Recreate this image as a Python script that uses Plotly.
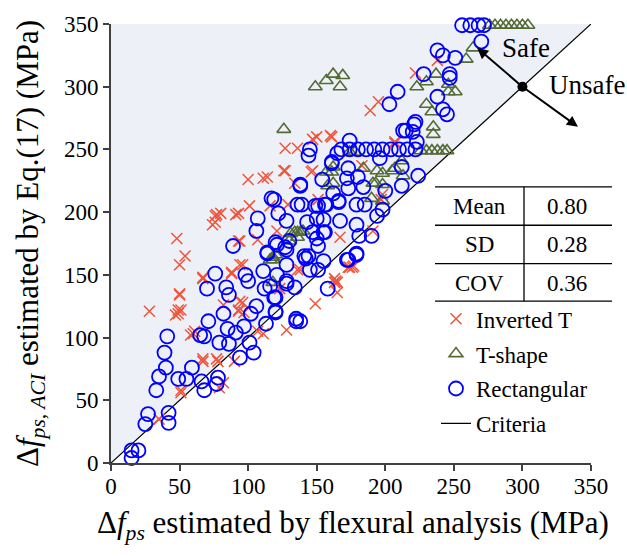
import plotly.graph_objects as go

# ---------------- data ----------------
inv_x = [28, 49, 51, 60, 58, 67, 78, 90, 51, 79, 35, 82, 93, 111, 82,
         48, 54, 50, 50, 47, 61, 67, 67, 77, 51, 93, 96, 88, 96, 107, 128, 149, 165, 165, 174, 138,
         127, 114, 100, 101, 116, 129, 77, 80, 91, 93, 74, 76, 94, 107, 94, 88, 67, 50, 49, 94, 93,
         121, 123, 136, 163, 147,
         150, 160, 127, 136, 126, 146, 134, 151, 167, 176, 191, 197, 163, 207, 189, 195, 222, 238,
         147, 161, 207, 198, 183, 173, 177, 164, 111, 76, 97]
inv_y = [121, 119, 122, 103, 102, 81, 81, 81, 58, 60, 35, 126, 121, 103, 64,
         179, 165, 158, 135, 118, 105, 147, 83, 83, 56, 177, 158, 151, 128, 105, 106, 127, 144, 136, 156, 154,
         233, 228, 226, 205, 205, 206, 198, 199, 198, 199, 190, 192, 177, 178, 158, 152, 148, 134, 122, 129, 122,
         185, 139, 154, 144, 233,
         260, 261, 251, 251, 233, 232, 223, 210, 180, 156, 185, 210, 147, 256, 281, 288, 311, 321,
         258, 260, 255, 214, 237, 156, 157, 145, 227, 197, 120]

tsh_x = [276, 280, 284, 288, 292, 296, 300, 304,
         149, 157, 162, 169, 167, 126,
         264, 259, 237, 230, 223, 246, 251, 246, 230, 234, 235, 235,
         226, 230, 234, 238, 242, 245,
         212, 213, 207, 194, 198, 205, 184, 198, 193, 190, 162, 162, 198, 157, 158, 191,
         140, 136, 131, 120, 118, 134, 138, 118, 116, 118, 161, 130, 136, 174, 178]
tsh_y = [349, 349, 349, 349, 349, 349, 349, 349,
         300, 305, 310, 309, 300, 266,
         331, 322, 310, 304, 300, 302, 296, 296, 286, 280, 268, 262,
         249, 249, 249, 249, 249, 249,
         241, 229, 235, 233, 231, 233, 235, 222, 223, 211, 236, 223, 209, 232, 221, 223,
         185, 184, 183, 166, 162, 184, 184, 164, 162, 144, 232, 177, 180, 248, 248]

rec_x = [15, 20, 15, 27, 25, 42, 42, 33, 35, 40, 39, 41,
         49, 55, 59, 66, 68, 78, 77,
         71, 65, 68, 82, 85, 79, 86, 91, 97, 101, 104, 94, 102, 106, 113, 120,
         119, 112, 116, 128, 134, 121, 111, 98, 100, 114, 121, 127, 128, 141, 145, 151, 155, 158, 135, 172, 179, 151,
         76, 70, 84, 86, 89, 107, 106, 119, 122, 128, 138, 136, 149, 156, 143, 150, 155, 147, 155, 150, 142,
         161, 154, 162, 166, 114, 120, 128, 130, 144, 128, 120, 120, 135, 138,
         144, 145, 174, 165, 161, 173, 172, 180, 173, 196, 212, 224, 212, 200, 138, 117, 139, 151, 157, 166,
         179, 185, 198, 194, 190, 181, 179, 167, 156, 173, 179,
         168, 174, 180, 186, 192, 198, 204, 210, 216, 222,
         213, 221, 256, 262, 268, 272, 270, 238, 242, 251, 228, 247, 247, 209, 203, 238, 242, 245, 222, 215,
         220, 223, 184]
rec_y = [10, 10, 4, 39, 31, 40, 32, 58, 69, 76, 88, 101,
         67, 67, 76, 65, 58, 68, 63,
         113, 102, 101, 119, 107, 96, 95, 104, 109, 96, 88, 84, 119, 125, 111, 120,
         132, 139, 141, 143, 140, 150, 153, 150, 145, 167, 174, 172, 158, 165, 154, 154, 161, 139, 113, 162, 166, 173,
         151, 139, 140, 134, 173, 195, 185, 210, 199, 193, 221, 206, 205, 206, 192, 195, 194, 184, 184, 179, 163,
         239, 226, 215, 209, 168, 176, 170, 177, 165, 145, 132, 121, 115, 113,
         245, 250, 257, 247, 240, 235, 227, 228, 219, 243, 236, 229, 221, 217, 222, 211, 206, 205, 206, 208,
         206, 206, 202, 197, 181, 181, 190, 193, 184, 162, 167,
         250, 250, 250, 250, 250, 250, 250, 250, 250, 250,
         265, 270, 349, 349, 349, 349, 336, 329, 325, 323, 310, 310, 307, 296, 286, 292, 282, 278, 272, 265,
         264, 256, 220]

crit_x = [0, 350]
crit_y = [0, 350]

table_rows = ["Mean", "SD", "COV"]
table_vals = ["0.80", "0.28", "0.36"]

axis_ticks = [0, 50, 100, 150, 200, 250, 300, 350]

# ---------------- layout helpers (pixels -> paper) ----------------
L, R, T, B = 111, 591, 18, 463
W, H = 627, 556


def px(x):
    return (x - L) / (R - L)


def py(y):
    return (B - y) / (B - T)


FONT = "Liberation Serif"

fig = go.Figure()

fig.add_trace(go.Scatter(x=crit_x, y=crit_y, mode="lines", name="Criteria",
                         line=dict(color="black", width=1.2), legendrank=4,
                         legendgroup="d"))
fig.add_trace(go.Scatter(x=inv_x, y=inv_y, mode="markers", name="Inverted T",
                         marker=dict(symbol="x-thin-open", size=11,
                                     line=dict(color="#ff0000", width=1.5)),
                         legendrank=1, legendgroup="a", cliponaxis=False))
fig.add_trace(go.Scatter(x=tsh_x, y=tsh_y, mode="markers", name="T-shape",
                         marker=dict(symbol="triangle-up-open", size=12, color="#556b35",
                                     line=dict(width=1.6)),
                         legendrank=2, legendgroup="b", cliponaxis=False))
fig.add_trace(go.Scatter(x=rec_x, y=rec_y, mode="markers", name="Rectangular",
                         marker=dict(symbol="circle-open", size=14, color="#0000ff",
                                     line=dict(width=1.8)),
                         legendrank=3, legendgroup="c", cliponaxis=False))
fig.add_trace(go.Scatter(x=[300], y=[300], mode="markers", showlegend=False,
                         marker=dict(size=10, color="black"), cliponaxis=False))

shapes = [dict(type="path", path="M 0,0 L 350,350 L 0,350 Z", xref="x", yref="y",
               fillcolor="#edf1f7", line=dict(width=0), layer="below")]
for yy in [183, 222, 261, 299]:
    shapes.append(dict(type="line", xref="paper", yref="paper", x0=px(435), x1=px(612),
                       y0=py(yy), y1=py(yy), line=dict(color="black", width=1.3)))
shapes.append(dict(type="line", xref="paper", yref="paper", x0=px(524), x1=px(524),
                   y0=py(183), y1=py(299), line=dict(color="black", width=1.3)))

annotations = []
for i, (lab, val) in enumerate(zip(table_rows, table_vals)):
    yc = 203 + i * 39
    annotations.append(dict(text=lab, x=px(479), y=py(yc), xref="paper", yref="paper",
                            showarrow=False, xanchor="center", yanchor="middle",
                            font=dict(family=FONT, size=23, color="black")))
    annotations.append(dict(text=val, x=px(567), y=py(yc), xref="paper", yref="paper",
                            showarrow=False, xanchor="center", yanchor="middle",
                            font=dict(family=FONT, size=23, color="black")))

for tx, ty in [(267, 331), (340.5, 268)]:
    annotations.append(dict(x=tx, y=ty, ax=300, ay=300, xref="x", yref="y", axref="x", ayref="y",
                            text="", showarrow=True, arrowhead=2, arrowsize=1.1,
                            arrowwidth=2, arrowcolor="black"))
annotations.append(dict(text="Safe", x=px(526), y=py(42), xref="paper", yref="paper",
                        showarrow=False, xanchor="center", yanchor="middle",
                        font=dict(family=FONT, size=27, color="black")))
annotations.append(dict(text="Unsafe", x=px(547), y=py(80), xref="paper", yref="paper",
                        showarrow=False, xanchor="left", yanchor="middle",
                        font=dict(family=FONT, size=27, color="black")))
annotations.append(dict(text="Δ<i>f</i><sub><i>ps</i></sub> estimated by flexural analysis (MPa)",
                        x=px(353), y=py(526), xref="paper", yref="paper", showarrow=False,
                        xanchor="center", yanchor="middle",
                        font=dict(family=FONT, size=31, color="black")))
annotations.append(dict(text="Δ<i>f</i><sub><i>ps, ACI</i></sub> estimated by Eq.(17) (MPa)",
                        x=px(30), y=py(241), xref="paper", yref="paper", showarrow=False,
                        xanchor="center", yanchor="middle", textangle=-90,
                        font=dict(family=FONT, size=31, color="black")))

axis_common = dict(range=[0, 350], tickvals=axis_ticks, ticks="outside", ticklen=6,
                   tickwidth=2, tickcolor="#404040", showline=True, linecolor="#404040",
                   linewidth=2, showgrid=False, zeroline=False, mirror=False,
                   tickfont=dict(family=FONT, size=23, color="black"))

fig.update_layout(
    width=W, height=H,
    margin=dict(l=L, r=W - R, t=T, b=H - B),
    paper_bgcolor="white", plot_bgcolor="white",
    font=dict(family=FONT, color="black"),
    xaxis=dict(**axis_common, ticklabelstandoff=-5),
    yaxis=dict(**axis_common),
    shapes=shapes, annotations=annotations,
    legend=dict(x=px(436), y=py(295), xanchor="left", yanchor="top",
                font=dict(family=FONT, size=23, color="black"),
                bgcolor="rgba(0,0,0,0)", tracegroupgap=2,
                traceorder="grouped"),
    showlegend=True,
)

fig.write_html("out.html")
